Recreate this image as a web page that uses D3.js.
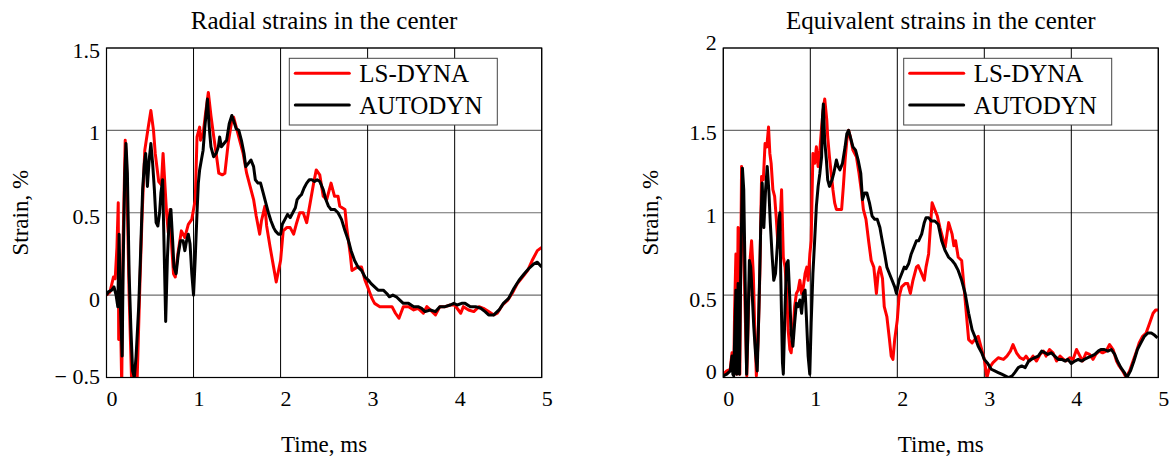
<!DOCTYPE html>
<html><head><meta charset="utf-8">
<script src="https://cdn.jsdelivr.net/npm/d3@7"></script>
<style>
html,body{margin:0;padding:0;background:#fff;}
svg text{font-family:"Liberation Serif","Times New Roman",serif;fill:#000;}
</style></head>
<body><svg id="chart" width="1171" height="457"></svg>
<script>
// ---------- data (time in ms, strain in %) ----------
const xTicks = [0, 1, 2, 3, 4, 5];
const xTickLabels = ["0", "1", "2", "3", "4", "5"];
const radialYTicks = [-0.5, 0, 0.5, 1, 1.5];
const radialYTickLabels = ["\u2212 0.5", "0", "0.5", "1", "1.5"];
const equivYTicks = [0, 0.5, 1, 1.5, 2];
const equivYTickLabels = ["0", "0.5", "1", "1.5", "2"];
const seriesNames = ["LS-DYNA", "AUTODYN"];
const titles = ["Radial strains in the center", "Equivalent strains in the center"];

const radialLsDyna = [[0,0],[0.04,0.02],[0.08,0.11],[0.1,0.1],[0.12,0.29],[0.135,0.56],[0.14,-0.27],[0.16,-0.1],[0.175,-0.55],[0.19,0.3],[0.215,0.94],[0.23,0.8],[0.26,0.0],[0.29,-0.55],[0.35,-0.55],[0.385,0.09],[0.41,0.5],[0.44,0.88],[0.48,1.02],[0.51,1.12],[0.54,1.0],[0.56,0.86],[0.6,0.69],[0.63,0.67],[0.65,0.86],[0.69,0.5],[0.71,0.38],[0.73,0.52],[0.75,0.29],[0.77,0.13],[0.79,0.11],[0.82,0.25],[0.86,0.39],[0.9,0.35],[0.94,0.43],[0.98,0.46],[1.02,0.58],[1.04,0.96],[1.07,1.02],[1.08,0.94],[1.11,0.98],[1.14,1.11],[1.17,1.23],[1.2,1.09],[1.23,0.97],[1.27,0.82],[1.29,0.74],[1.33,0.73],[1.36,0.74],[1.4,0.93],[1.44,1.06],[1.46,1.08],[1.5,1.0],[1.53,0.94],[1.57,0.86],[1.61,0.74],[1.65,0.66],[1.69,0.58],[1.72,0.48],[1.76,0.37],[1.78,0.45],[1.82,0.54],[1.84,0.42],[1.88,0.29],[1.92,0.17],[1.95,0.08],[2.0,0.21],[2.03,0.39],[2.07,0.41],[2.11,0.41],[2.15,0.37],[2.18,0.43],[2.22,0.5],[2.26,0.5],[2.3,0.44],[2.34,0.56],[2.38,0.68],[2.41,0.76],[2.45,0.73],[2.49,0.6],[2.53,0.58],[2.58,0.68],[2.62,0.6],[2.66,0.6],[2.68,0.54],[2.74,0.52],[2.76,0.41],[2.8,0.25],[2.82,0.15],[2.88,0.17],[2.93,0.17],[2.97,0.09],[3.0,0.05],[3.05,-0.02],[3.08,-0.05],[3.14,-0.07],[3.22,-0.07],[3.28,-0.07],[3.32,-0.11],[3.36,-0.14],[3.41,-0.07],[3.47,-0.07],[3.53,-0.09],[3.58,-0.08],[3.64,-0.11],[3.68,-0.07],[3.72,-0.09],[3.78,-0.12],[3.83,-0.07],[3.89,-0.07],[3.95,-0.06],[4.0,-0.06],[4.07,-0.11],[4.1,-0.07],[4.16,-0.09],[4.22,-0.1],[4.28,-0.07],[4.33,-0.08],[4.39,-0.1],[4.45,-0.12],[4.49,-0.11],[4.55,-0.06],[4.61,-0.03],[4.66,0.01],[4.72,0.07],[4.78,0.11],[4.84,0.15],[4.89,0.21],[4.95,0.27],[5.0,0.29]];

const radialAutodyn = [[0,0],[0.02,0.02],[0.06,0.03],[0.086,0.05],[0.11,0.0],[0.13,-0.07],[0.145,0.37],[0.16,-0.07],[0.18,-0.37],[0.19,0.13],[0.21,0.74],[0.224,0.92],[0.24,0.74],[0.26,0.13],[0.28,-0.2],[0.3,-0.46],[0.32,-0.5],[0.34,-0.37],[0.37,-0.07],[0.39,0.23],[0.415,0.64],[0.435,0.8],[0.45,0.86],[0.47,0.66],[0.49,0.82],[0.51,0.92],[0.53,0.8],[0.55,0.64],[0.57,0.44],[0.59,0.42],[0.61,0.5],[0.625,0.62],[0.645,0.7],[0.66,0.33],[0.68,-0.16],[0.7,0.23],[0.72,0.46],[0.74,0.52],[0.76,0.33],[0.775,0.17],[0.8,0.13],[0.825,0.25],[0.85,0.33],[0.88,0.33],[0.9,0.27],[0.92,0.33],[0.94,0.37],[0.96,0.31],[0.98,0.13],[1.0,0.0],[1.02,0.23],[1.04,0.5],[1.055,0.68],[1.07,0.76],[1.09,0.82],[1.11,0.88],[1.13,1.02],[1.16,1.19],[1.18,1.02],[1.2,0.9],[1.23,0.84],[1.26,0.86],[1.285,0.9],[1.3,0.96],[1.32,0.9],[1.35,0.92],[1.38,0.94],[1.41,1.04],[1.44,1.09],[1.46,1.06],[1.49,1.01],[1.52,1.0],[1.55,0.94],[1.58,0.86],[1.6,0.78],[1.63,0.8],[1.66,0.82],[1.69,0.78],[1.71,0.7],[1.74,0.68],[1.77,0.68],[1.8,0.62],[1.83,0.56],[1.86,0.5],[1.89,0.45],[1.92,0.41],[1.94,0.39],[1.975,0.37],[2.0,0.37],[2.02,0.43],[2.05,0.46],[2.08,0.49],[2.11,0.47],[2.14,0.5],[2.17,0.53],[2.19,0.58],[2.22,0.6],[2.24,0.61],[2.27,0.65],[2.3,0.68],[2.33,0.7],[2.36,0.7],[2.39,0.69],[2.42,0.7],[2.45,0.69],[2.49,0.64],[2.52,0.58],[2.55,0.54],[2.58,0.52],[2.62,0.52],[2.66,0.5],[2.7,0.46],[2.74,0.39],[2.78,0.33],[2.81,0.27],[2.85,0.21],[2.89,0.17],[2.93,0.15],[2.97,0.11],[3.01,0.09],[3.04,0.07],[3.08,0.05],[3.12,0.03],[3.18,0.03],[3.22,0.01],[3.25,-0.01],[3.29,0.0],[3.33,-0.01],[3.37,-0.03],[3.41,-0.05],[3.47,-0.05],[3.53,-0.07],[3.58,-0.07],[3.62,-0.08],[3.66,-0.1],[3.72,-0.09],[3.78,-0.1],[3.83,-0.07],[3.89,-0.07],[3.95,-0.06],[3.99,-0.05],[4.03,-0.06],[4.08,-0.05],[4.12,-0.05],[4.18,-0.07],[4.24,-0.07],[4.3,-0.08],[4.35,-0.1],[4.39,-0.12],[4.45,-0.12],[4.51,-0.09],[4.56,-0.05],[4.62,-0.02],[4.68,0.04],[4.74,0.09],[4.8,0.13],[4.85,0.16],[4.91,0.19],[4.95,0.2],[5.0,0.17]];

const equivLsDyna = [[0,0.02],[0.04,0.04],[0.08,0.05],[0.1,0.15],[0.12,0.02],[0.13,0.41],[0.145,0.75],[0.155,0.02],[0.17,0.91],[0.19,0.02],[0.21,1.28],[0.225,1.08],[0.25,0.43],[0.27,0.01],[0.29,0.43],[0.31,0.73],[0.325,0.83],[0.345,0.63],[0.36,0.33],[0.38,0.01],[0.4,0.22],[0.42,0.63],[0.44,1.22],[0.46,1.2],[0.48,1.42],[0.5,1.4],[0.52,1.52],[0.535,1.36],[0.55,1.3],[0.57,1.14],[0.59,1.1],[0.61,0.96],[0.63,0.79],[0.65,0.91],[0.67,1.14],[0.69,0.73],[0.71,0.67],[0.73,0.51],[0.745,0.29],[0.765,0.17],[0.78,0.15],[0.8,0.27],[0.82,0.43],[0.84,0.51],[0.86,0.53],[0.88,0.59],[0.9,0.51],[0.92,0.55],[0.94,0.63],[0.96,0.67],[0.975,0.59],[0.995,0.75],[1.01,0.83],[1.03,1.36],[1.05,1.3],[1.07,1.4],[1.09,1.28],[1.11,1.38],[1.13,1.52],[1.147,1.62],[1.166,1.69],[1.19,1.56],[1.2,1.46],[1.22,1.34],[1.24,1.24],[1.26,1.14],[1.28,1.06],[1.3,1.02],[1.33,1.02],[1.36,1.02],[1.38,1.16],[1.4,1.32],[1.42,1.44],[1.44,1.5],[1.46,1.46],[1.49,1.38],[1.53,1.34],[1.56,1.24],[1.59,1.12],[1.61,1.02],[1.64,0.96],[1.67,0.83],[1.7,0.71],[1.73,0.67],[1.76,0.51],[1.78,0.63],[1.8,0.67],[1.83,0.6],[1.85,0.43],[1.88,0.37],[1.91,0.23],[1.93,0.13],[1.95,0.11],[1.97,0.23],[2.0,0.35],[2.02,0.49],[2.05,0.55],[2.09,0.57],[2.12,0.57],[2.15,0.51],[2.18,0.59],[2.22,0.67],[2.24,0.68],[2.28,0.63],[2.31,0.59],[2.33,0.67],[2.36,0.75],[2.38,0.91],[2.4,1.06],[2.43,1.02],[2.46,0.98],[2.49,0.91],[2.51,0.87],[2.55,0.79],[2.59,0.94],[2.63,0.87],[2.65,0.8],[2.67,0.83],[2.7,0.73],[2.74,0.71],[2.78,0.47],[2.82,0.23],[2.86,0.21],[2.89,0.23],[2.93,0.25],[2.97,0.17],[3.0,0.11],[3.03,0.0],[3.06,0.06],[3.1,0.09],[3.16,0.12],[3.22,0.11],[3.26,0.13],[3.3,0.16],[3.33,0.2],[3.37,0.15],[3.41,0.12],[3.45,0.11],[3.48,0.13],[3.52,0.1],[3.56,0.13],[3.6,0.1],[3.64,0.14],[3.68,0.16],[3.71,0.13],[3.75,0.17],[3.79,0.15],[3.83,0.1],[3.87,0.13],[3.91,0.11],[3.94,0.1],[3.98,0.12],[4.02,0.11],[4.06,0.17],[4.1,0.13],[4.13,0.1],[4.17,0.15],[4.21,0.14],[4.25,0.11],[4.28,0.14],[4.32,0.16],[4.36,0.15],[4.4,0.16],[4.44,0.2],[4.48,0.17],[4.52,0.1],[4.55,0.07],[4.59,0.04],[4.63,0.0],[4.67,0.04],[4.71,0.1],[4.75,0.16],[4.78,0.21],[4.82,0.25],[4.86,0.27],[4.9,0.33],[4.94,0.39],[4.97,0.41],[5.0,0.41]];

const equivAutodyn = [[0,0.01],[0.04,0.02],[0.08,0.04],[0.1,0.13],[0.11,0.02],[0.12,0.01],[0.13,0.23],[0.145,0.53],[0.155,0.02],[0.17,0.57],[0.185,0.02],[0.2,0.63],[0.22,1.27],[0.235,1.14],[0.25,0.63],[0.268,0.02],[0.28,0.23],[0.3,0.71],[0.315,0.67],[0.33,0.53],[0.35,0.31],[0.37,0.15],[0.39,0.04],[0.41,0.43],[0.43,0.91],[0.447,1.18],[0.466,0.91],[0.486,1.14],[0.505,1.28],[0.525,1.12],[0.54,0.94],[0.56,0.75],[0.58,0.59],[0.6,0.63],[0.62,0.79],[0.64,0.96],[0.65,1.0],[0.66,0.63],[0.68,0.09],[0.69,0.02],[0.71,0.43],[0.727,0.69],[0.745,0.71],[0.765,0.47],[0.78,0.27],[0.8,0.19],[0.82,0.33],[0.84,0.45],[0.86,0.43],[0.88,0.47],[0.9,0.39],[0.92,0.51],[0.94,0.53],[0.955,0.37],[0.975,0.13],[0.994,0.02],[1.01,0.33],[1.03,0.63],[1.05,0.83],[1.07,1.04],[1.09,1.16],[1.11,1.24],[1.13,1.34],[1.14,1.58],[1.15,1.66],[1.165,1.44],[1.185,1.32],[1.2,1.2],[1.22,1.16],[1.25,1.2],[1.27,1.24],[1.3,1.32],[1.32,1.28],[1.34,1.26],[1.37,1.3],[1.4,1.4],[1.42,1.48],[1.44,1.5],[1.46,1.46],[1.49,1.4],[1.52,1.38],[1.55,1.32],[1.58,1.24],[1.6,1.08],[1.625,1.12],[1.65,1.12],[1.68,1.06],[1.71,0.98],[1.74,0.96],[1.77,0.96],[1.8,0.91],[1.82,0.85],[1.855,0.75],[1.88,0.67],[1.91,0.63],[1.94,0.59],[1.97,0.55],[1.99,0.51],[2.02,0.59],[2.05,0.63],[2.08,0.67],[2.1,0.66],[2.13,0.69],[2.16,0.75],[2.19,0.79],[2.22,0.83],[2.245,0.83],[2.28,0.87],[2.31,0.94],[2.33,0.97],[2.36,0.97],[2.39,0.95],[2.43,0.95],[2.47,0.93],[2.51,0.83],[2.55,0.77],[2.59,0.73],[2.63,0.71],[2.66,0.69],[2.7,0.65],[2.74,0.59],[2.78,0.51],[2.82,0.39],[2.86,0.29],[2.89,0.25],[2.93,0.19],[2.97,0.15],[3.0,0.11],[3.04,0.085],[3.08,0.05],[3.12,0.04],[3.16,0.03],[3.2,0.02],[3.24,0.01],[3.28,0.0],[3.32,0.01],[3.35,0.03],[3.39,0.06],[3.43,0.07],[3.47,0.06],[3.51,0.1],[3.54,0.11],[3.58,0.12],[3.62,0.13],[3.66,0.16],[3.7,0.15],[3.73,0.14],[3.77,0.15],[3.81,0.13],[3.85,0.11],[3.89,0.11],[3.93,0.1],[3.96,0.11],[4.0,0.085],[4.04,0.1],[4.08,0.11],[4.12,0.1],[4.15,0.11],[4.19,0.12],[4.23,0.13],[4.27,0.14],[4.31,0.16],[4.34,0.17],[4.38,0.17],[4.42,0.16],[4.46,0.17],[4.5,0.14],[4.53,0.1],[4.57,0.06],[4.61,0.03],[4.64,0.0],[4.68,0.04],[4.72,0.1],[4.76,0.17],[4.8,0.21],[4.84,0.25],[4.88,0.27],[4.92,0.27],[4.95,0.26],[4.99,0.24]];

// ---------- layout ----------
const colors = ["#ff0000", "#000000"];
const panels = [
  { title: titles[0], series: [radialLsDyna, radialAutodyn], yDomain: [-0.5, 1.5],
    yTicks: radialYTicks, yLabels: radialYTickLabels, yDy: [6, 12, 11, 10, 10],
    x0: 106.5, x1: 541.7, legendX: 289.3, ylabX: 27.5 },
  { title: titles[1], series: [equivLsDyna, equivAutodyn], yDomain: [0, 2],
    yTicks: equivYTicks, yLabels: equivYTickLabels, yDy: [1, 12, 10, 10, 2],
    x0: 723.3, x1: 1158.3, legendX: 903.7, ylabX: 657.5 }
];
const yTop = 48, yBot = 377.5;

const svg = d3.select("#chart");

panels.forEach((p, pi) => {
  const x = d3.scaleLinear().domain([0, 5]).range([p.x0, p.x1]);
  const y = d3.scaleLinear().domain(p.yDomain).range([yBot, yTop]);
  const g = svg.append("g");

  // horizontal grid (gray)
  g.selectAll(".hg").data(p.yTicks).enter().append("line")
    .attr("x1", p.x0).attr("x2", p.x1)
    .attr("y1", d => y(d)).attr("y2", d => y(d))
    .attr("stroke", "#6e6e6e").attr("stroke-width", 1.2);
  // vertical grid (black)
  g.selectAll(".vg").data(xTicks).enter().append("line")
    .attr("x1", d => x(d)).attr("x2", d => x(d))
    .attr("y1", yTop).attr("y2", yBot)
    .attr("stroke", "#000").attr("stroke-width", 1);

  // clip
  const cid = "clip" + pi;
  svg.append("clipPath").attr("id", cid).append("rect")
    .attr("x", p.x0).attr("y", yTop).attr("width", p.x1 - p.x0).attr("height", yBot - yTop);

  const line = d3.line().x(d => x(d[0])).y(d => y(d[1]));
  p.series.forEach((s, si) => {
    g.append("path").datum(s)
      .attr("d", line).attr("clip-path", `url(#${cid})`)
      .attr("fill", "none").attr("stroke", colors[si])
      .attr("stroke-width", 3).attr("stroke-linejoin", "round");
  });

  // frame
  g.append("rect").attr("x", p.x0).attr("y", yTop)
    .attr("width", p.x1 - p.x0).attr("height", yBot - yTop)
    .attr("fill", "none").attr("stroke", "#000").attr("stroke-width", 1.2);

  // x tick labels
  g.selectAll(".xl").data(xTicks).enter().append("text")
    .attr("x", d => x(d) + 5.5).attr("y", 406)
    .attr("text-anchor", "middle").attr("font-size", 22)
    .text((d, i) => xTickLabels[i]);
  // y tick labels
  g.selectAll(".yl").data(p.yTicks).enter().append("text")
    .attr("x", p.x0 - 6.5).attr("y", (d, i) => y(d) + p.yDy[i])
    .attr("text-anchor", "end").attr("font-size", 22)
    .text((d, i) => p.yLabels[i]);

  // titles
  g.append("text").attr("x", (p.x0 + p.x1) / 2).attr("y", 29)
    .attr("text-anchor", "middle").attr("font-size", 25).text(p.title);
  g.append("text").attr("x", (p.x0 + p.x1) / 2).attr("y", 452)
    .attr("text-anchor", "middle").attr("font-size", 23).text("Time, ms");
  g.append("text").attr("transform", `translate(${p.ylabX},${(yTop + yBot) / 2}) rotate(-90)`)
    .attr("text-anchor", "middle").attr("font-size", 23).text("Strain, %");

  // legend
  const lg = g.append("g");
  lg.append("rect").attr("x", p.legendX).attr("y", 58.3).attr("width", 208).attr("height", 66.7)
    .attr("fill", "#fff").attr("stroke", "#444").attr("stroke-width", 1);
  seriesNames.forEach((n, i) => {
    const ly = 73.3 + i * 31.7;
    lg.append("line").attr("x1", p.legendX + 6).attr("x2", p.legendX + 60)
      .attr("y1", ly).attr("y2", ly).attr("stroke", colors[i]).attr("stroke-width", 3)
      .attr("stroke-linecap", "round");
    lg.append("text").attr("x", p.legendX + 70).attr("y", ly + 8.5)
      .attr("font-size", 25).text(n);
  });
});
</script></body></html>
